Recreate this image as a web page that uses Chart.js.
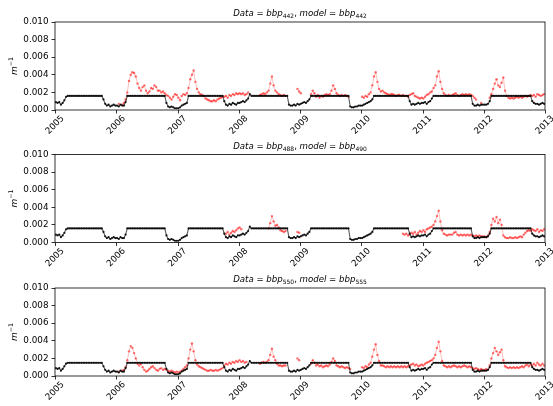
<!DOCTYPE html>
<html>
<head>
<meta charset="utf-8">
<script src="https://cdn.jsdelivr.net/npm/chart.js@4.4.1/dist/chart.umd.min.js"></script>
<style>
  html, body { margin: 0; padding: 0; background: #fff; width: 553px; height: 406px; overflow: hidden; }
  canvas.panel { position: absolute; left: 0; }
</style>
</head>
<body>
<canvas id="panel0" class="panel" width="553" height="150" style="top:0px;width:553px;height:150px"></canvas>
<canvas id="panel1" class="panel" width="553" height="150" style="top:133px;width:553px;height:150px"></canvas>
<canvas id="panel2" class="panel" width="553" height="150" style="top:266px;width:553px;height:150px"></canvas>
<script>
const _ = null;

// Axis ticks
const xTickYears = [2005, 2006, 2007, 2008, 2009, 2010, 2011, 2012, 2013];
const yTickValues = [0, 0.002, 0.004, 0.006, 0.008, 0.010];

// Wavelength pairs shown in each panel title: [data, model]
const bandPairs = [['442', '442'], ['488', '490'], ['550', '555']];

// Series are sampled every ten days (36 samples per year, 2005-2012),
// values in units of 1e-4 m^-1; one line = two months.
const SAMPLES_PER_YEAR = 36;
const UNIT = 1e-4;

const dark442 = [
  // 2005
   9, 8, 9, 6, 8,11,
  15,16,16,16,16,16,
  16,16,16,16,16,16,
  16,16,16,16,16,16,
  16,16,16,16,12, 7,
   5, 6, 4, 5, 6, 5,
  // 2006
   5, 4, 6, 5, 5, 9,
  16,16,16,16,16,16,
  16,16,16,16,16,16,
  16,16,16,16,16,16,
  16,16,16,16,16, 8,
   4, 3, 4, 3, 2, 2,
  // 2007
   2, 3, 5, 6, 7, 8,
  16,16,16,16,16,16,
  16,16,16,16,16,16,
  16,16,16,16,16,16,
  16,16,16,10, 6, 5,
   7, 6, 8, 7, 6, 8,
  // 2008
   8, 9,10, 9,11,13,
  18,16,16,16,16,16,
  16,16,16,16,16,16,
  16,16,16,16,16,16,
  16,16,16,16,16, 6,
   5, 5, 6, 5, 7, 6,
  // 2009
   7, 8, 9, 8,10,12,
  16,16,16,16,16,16,
  16,16,16,16,16,16,
  16,16,16,16,16,16,
  16,16,16,16,16, 4,
   3, 3, 4, 4, 5, 5,
  // 2010
   5, 6, 7, 8, 9,10,
  12,16,16,16,16,16,
  16,16,16,16,16,16,
  16,16,16,16,16,16,
  16,16,16,16,10, 6,
   7, 6, 7, 8, 7, 8,
  // 2011
   8, 9, 7, 9,10,13,
  16,16,16,16,16,16,
  16,16,16,16,16,16,
  16,16,16,16,16,16,
  16,16,16,16,16, 7,
   5, 5, 6, 5, 6, 6,
  // 2012
   6, 6, 7,10,16,16,
  16,16,16,16,16,16,
  16,16,16,16,16,16,
  16,16,16,16,16,16,
  16,16,16,16,10, 8,
   7, 7, 6, 7, 8, 7
];

const red442 = [
  // 2005
  _,_,_,_,_,_, _,_,_,_,_,_, _,_,_,_,_,_, _,_,_,_,_,_, _,_,_,_,_,_, _,_,_,_,_,_,
  // 2006
   _, 7, _, 6, 8,12,
  20,33,40,43,42,38,
  30,25,22,26,28,22,
  19,21,25,24,28,26,
  22,22,20,21,19,17,
  16,14,12,15,18,17,
  // 2007
  14,11,16,18,17,19,
  25,35,40,45,32,24,
  20,18,17,16,13,12,
  11,10,10,11,10,12,
  13,14,15,15,16,14,
  17,16,18,17,19,18,
  // 2008
  19,18,19,17,18,20,
   _, _, _, _, _, _,
  17,18,19,18,20,22,
  30,38,28,22,20,18,
  17,16,17,16, _, _,
   _, _, _, _,24,21,
  // 2009
  19, _, _, _, _, _,
  18,22,19,15,17,14,
  16,15,17,18,17,18,
  22,28,24,19,17,16,
  17,16,17,16,15, _,
   _, _, _, _, _, _,
  // 2010
  15,14,16,15,18,20,
  28,38,43,32,24,21,
  22,20,19,18,17,18,
  18,17,16,17,17,16,
  17,16,16,15,17,18,
  19,16,15,14,13,14,
  // 2011
  13,15,17,18,20,21,
  25,28,38,44,32,24,
  19,17,16,17,16,17,
  18,19,17,16,17,18,
  17,18,17,18,17,16,
  14,12, _, _, 8, _,
  // 2012
   _, _, _,14,18,24,
  30,35,28,26,31,37,
  22,16,14,13,14,13,
  14,15,14,15,14,15,
  16,15,16,17,16,17,
  15,18,17,16,17,18
];

// The dark series of the 490 nm panel coincides with the 442 nm one.
const dark490 = dark442;

const red488 = [
  // 2005
  _,_,_,_,_,_, _,_,_,_,_,_, _,_,_,_,_,_, _,_,_,_,_,_, _,_,_,_,_,_, _,_,_,_,_,_,
  // 2006
  _,_,_,_,_,_, _,_,_,_,_,_, _,_,_,_,_,_, _,_,_,_,_,_, _,_,_,_,_,_, _,_,_,_,_,_,
  // 2007
   _, _, _, _, _, _,
   _, _, _, _, _, _,
   _, _, _, _, _, _,
   _, _, _, _, _, _,
   _, _, _, _,10,12,
   9,11,13,12,14,16,
  // 2008
  17,15, _, _, _, _,
   _, _, _, _, _, _,
   _, _, _, _, _,16,
  22,30,24,19,20,17,
  14,13,12,13, _, _,
   _, _, _, _,12,11,
  // 2009
  _,_,_,_,_,_, _,_,_,_,_,_, _,_,_,_,_,_, _,_,_,_,_,_, _,_,_,_,_,_, _,_,_,_,_,_,
  // 2010
   _, _, _, _, _, _,
   _, _, _, _, _, _,
   _, _, _, _, _, _,
   _, _, _, _, _, _,
  10, 9,10, 8, 9,11,
  10,12, 9,11,13,12,
  // 2011
  14,12,15,16,17,18,
  20,24,30,36,24,14,
  10, 9, 8, 9, 9, 9,
  11,12, 9, 8, 9, 8,
   9, 8, 9, 8, 9, 8,
   7, 8, 7, 8, 7, 7,
  // 2012
   7, 6, 8,12,20,27,
  24,29,22,26,20, 8,
   6, 5, 5, 6, 5, 5,
   6, 5, 6, 7, 6, 9,
  11,13,14,13,15,14,
  13,15,12,14,13,15
];

const dark555 = [
  // 2005
   9, 8, 9, 6, 8,11,
  14,15,15,15,15,15,
  15,15,15,15,15,15,
  15,15,15,15,15,15,
  15,15,15,15,11, 7,
   5, 6, 4, 5, 6, 5,
  // 2006
   5, 4, 6, 5, 5, 9,
  15,15,15,15,15,15,
  15,15,15,15,15,15,
  15,15,15,15,15,15,
  15,15,15,15,15, 8,
   4, 3, 4, 3, 2, 2,
  // 2007
   2, 3, 5, 6, 7, 8,
  15,15,15,15,15,15,
  15,15,15,15,15,15,
  15,15,15,15,15,15,
  15,15,15,10, 6, 5,
   7, 6, 8, 7, 6, 8,
  // 2008
   8, 9,10, 9,11,13,
  17,15,15,15,15,15,
  15,15,15,15,15,15,
  15,15,15,15,15,15,
  15,15,15,15,15, 6,
   5, 5, 6, 5, 7, 6,
  // 2009
   7, 8, 9, 8,10,12,
  15,15,15,15,15,15,
  15,15,15,15,15,15,
  15,15,15,15,15,15,
  15,15,15,15,15, 4,
   3, 3, 4, 4, 5, 5,
  // 2010
   5, 6, 7, 8, 9,10,
  12,15,15,15,15,15,
  15,15,15,15,15,15,
  15,15,15,15,15,15,
  15,15,15,15,10, 6,
   7, 6, 7, 8, 7, 8,
  // 2011
   8, 9, 7, 9,10,13,
  15,15,15,15,15,15,
  15,15,15,15,15,15,
  15,15,15,15,15,15,
  15,15,15,15,15, 7,
   5, 5, 6, 5, 6, 6,
  // 2012
   6, 6, 7,10,15,15,
  15,15,15,15,15,15,
  15,15,15,15,15,15,
  15,15,15,15,15,15,
  15,15,15,15,10, 8,
   7, 7, 6, 7, 8, 7
];

const red550 = [
  // 2005
  _,_,_,_,_,_, _,_,_,_,_,_, _,_,_,_,_,_, _,_,_,_,_,_, _,_,_,_,_,_, _,_,_,_,_,_,
  // 2006
   _, 5, _, 6, 7,10,
  18,28,34,32,26,20,
  14,12,14,10, 7, 5,
   6, 8,10,11, 9, 7,
   6, 8, 9, 7, 8, 7,
   6, 5, 6, 5, 4, 5,
  // 2007
   4, 5, 6, 8,10,12,
  20,30,37,28,18,13,
  11,10, 9, 8, 7, 6,
   6, 7, 6, 6, 7, 6,
   7, 8, 9,12,14,13,
  15,14,16,15,17,16,
  // 2008
  18,16,17,15,16, _,
   _, _, _, _, _, _,
  14,15,16,15,16,18,
  24,31,22,18,14,12,
  12,11,12,12, _, _,
   _, _, _, _,20,18,
  // 2009
   _, _, _, _, _, _,
  14,18,15,12,13,11,
  12,10,11,12,11,13,
  16,20,17,12,11,10,
  11,10, 9,10, 9, 8,
   _, _, _, _, _, _,
  // 2010
  10, 9,11,10,13,15,
  22,30,36,24,17,12,
  12,11,10,11,10,11,
  10,11,10,11,10,11,
  10,11,10,11,12,13,
  14,12,13,11,12,13,
  // 2011
  12,14,15,16,17,18,
  20,24,32,39,28,17,
  12,11,10,11,10,11,
  12,11,10,11,10,11,
  12,11,10,11,10, 9,
   8, 9, 8, 7, 8, 7,
  // 2012
   7, 8, 7,12,20,26,
  32,28,24,27,30,18,
  11,10, 9,10, 9,10,
   9,10, 9,10,11,10,
  12,13,11,13,12,14,
  12,15,13,12,14,12
];

const panels = [
  { canvas: 'panel0', dark: dark442, red: red442, bands: bandPairs[0], padTop: 22 },
  { canvas: 'panel1', dark: dark490, red: red488, bands: bandPairs[1], padTop: 21.5 },
  { canvas: 'panel2', dark: dark555, red: red550, bands: bandPairs[2], padTop: 22 }
];

const FONT = '"DejaVu Sans", sans-serif';
const PLOT_HEIGHT = 88;
const CANVAS_HEIGHT = 150;

function toPoints(values) {
  return values.map((v, i) => ({
    x: 2005 + (i + 0.5) / SAMPLES_PER_YEAR,
    y: v === null ? null : v * UNIT
  }));
}

// Draw a sequence of text runs (mixed italic / upright / sub- and superscript)
function runWidth(ctx, runs) {
  let w = 0;
  runs.forEach(r => {
    ctx.font = `${r.italic ? 'italic ' : ''}${r.size}px ${FONT}`;
    w += ctx.measureText(r.t).width;
  });
  return w;
}
function drawRuns(ctx, runs, x, y) {
  let cx = x;
  runs.forEach(r => {
    ctx.font = `${r.italic ? 'italic ' : ''}${r.size}px ${FONT}`;
    ctx.fillText(r.t, cx, y + (r.dy || 0));
    cx += ctx.measureText(r.t).width;
  });
}

function makeDecor(bands) {
  return {
    id: 'decor',
    afterDraw(chart) {
      const { ctx, chartArea: a } = chart;
      const xs = chart.scales.x;
      ctx.save();

      // frame around the plotting area
      ctx.strokeStyle = '#000';
      ctx.lineWidth = 0.8;
      ctx.strokeRect(a.left, a.top, a.right - a.left, a.bottom - a.top);

      // year tick marks and rotated year labels
      ctx.beginPath();
      xTickYears.forEach(yr => {
        const px = Math.round(xs.getPixelForValue(yr)) + 0.5;
        ctx.moveTo(px, a.bottom);
        ctx.lineTo(px, a.bottom + 3.5);
      });
      ctx.stroke();
      ctx.fillStyle = '#000';
      ctx.font = `8.8px ${FONT}`;
      ctx.textAlign = 'center';
      ctx.textBaseline = 'middle';
      xTickYears.forEach(yr => {
        const px = xs.getPixelForValue(yr);
        ctx.save();
        ctx.translate(px, a.bottom + 15);
        ctx.rotate(-Math.PI / 4);
        ctx.fillText(String(yr), 0, 0);
        ctx.restore();
      });

      // title: Data = bbp_xxx, model = bbp_yyy
      ctx.textAlign = 'left';
      ctx.textBaseline = 'alphabetic';
      const S = 8.6, s = 6.0;
      const title = [
        { t: 'Data', italic: true, size: S },
        { t: ' = ', size: S },
        { t: 'bbp', italic: true, size: S },
        { t: bands[0], size: s, dy: 2 },
        { t: ', ', size: S },
        { t: 'model', italic: true, size: S },
        { t: ' = ', size: S },
        { t: 'bbp', italic: true, size: S },
        { t: bands[1], size: s, dy: 2 }
      ];
      const tw = runWidth(ctx, title);
      drawRuns(ctx, title, (a.left + a.right) / 2 - tw / 2, a.top - 6);

      // y-axis unit label m^-1
      const unit = [
        { t: 'm', italic: true, size: 9 },
        { t: '\u22121', size: 6.3, dy: -3.8 }
      ];
      const uw = runWidth(ctx, unit);
      ctx.save();
      ctx.translate(16.5, (a.top + a.bottom) / 2);
      ctx.rotate(-Math.PI / 2);
      drawRuns(ctx, unit, -uw / 2, 0);
      ctx.restore();

      ctx.restore();
    }
  };
}

panels.forEach(p => {
  const xAxisHeight = CANVAS_HEIGHT - p.padTop - PLOT_HEIGHT;
  new Chart(document.getElementById(p.canvas), {
    type: 'line',
    data: {
      datasets: [
        {
          data: toPoints(p.dark),
          borderColor: 'rgba(0,0,0,0.65)',
          backgroundColor: 'rgba(0,0,0,0.85)',
          borderWidth: 1.1,
          pointRadius: 1.1,
          pointBorderWidth: 0,
          order: 0
        },
        {
          data: toPoints(p.red),
          borderColor: 'rgba(255,0,0,0.32)',
          backgroundColor: 'rgba(255,0,0,0.55)',
          borderWidth: 0.8,
          pointRadius: 1.2,
          pointBorderWidth: 0,
          order: 1
        }
      ]
    },
    options: {
      responsive: false,
      animation: false,
      devicePixelRatio: 1,
      layout: { padding: { top: p.padTop, right: 8, left: 0, bottom: 0 } },
      elements: { line: { tension: 0 } },
      plugins: { legend: { display: false }, tooltip: { enabled: false }, title: { display: false } },
      scales: {
        x: {
          type: 'linear',
          min: 2005,
          max: 2013,
          afterBuildTicks(scale) { scale.ticks = xTickYears.map(v => ({ value: v })); },
          ticks: { display: false },
          grid: { display: false },
          border: { display: false },
          afterFit(scale) { scale.height = xAxisHeight; }
        },
        y: {
          type: 'linear',
          min: 0,
          max: 0.01,
          afterBuildTicks(scale) { scale.ticks = yTickValues.map(v => ({ value: v })); },
          ticks: {
            callback: v => Number(v).toFixed(3),
            font: { family: FONT, size: 8.8 },
            color: '#000',
            padding: 3
          },
          grid: { drawOnChartArea: false, tickLength: 3.5, color: '#000', lineWidth: 0.8 },
          border: { display: false },
          afterFit(scale) { scale.width = 55; }
        }
      }
    },
    plugins: [makeDecor(p.bands)]
  });
});
</script>
</body>
</html>
